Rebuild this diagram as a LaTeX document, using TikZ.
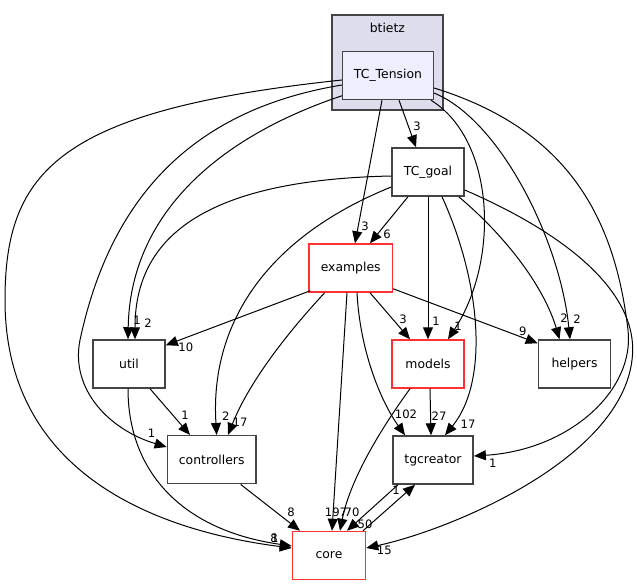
\documentclass[tikz,border=0pt]{standalone}
\usepackage{fontspec}
\setmainfont{DejaVu Sans}
\usepackage{tikz}
\usepackage{xcolor}
\usetikzlibrary{arrows.meta}
\definecolor{clusterfill}{HTML}{DDDDEE}
\definecolor{currentfill}{HTML}{EEEEFF}
\definecolor{boxline}{HTML}{444444}
\definecolor{boxred}{HTML}{FF3030}
\tikzstyle{cluster} = [rectangle,
                       minimum width=111pt,
                       minimum height=95pt,
                       draw=boxline,
                       line width=1.5pt,
                       fill=clusterfill]
\tikzstyle{dirnode} = [rectangle,
                       minimum width=72pt,
                       minimum height=48pt,
                       inner sep=2pt,
                       text centered,
                       draw=boxline,
                       line width=1.5pt,
                       fill=white,
                       font=\fontsize{12.4}{14}\selectfont]
\tikzstyle{reddir} = [dirnode,
                      draw=boxred]
\tikzstyle{currentdir} = [dirnode,
                          fill=currentfill]
\tikzstyle{lbl} = [inner sep=0pt,
                   font=\fontsize{11.6}{13}\selectfont]
\tikzstyle{arrow} = [line width=1pt,
                     ->,
                     >={Triangle[length=12pt,width=10pt]}]

\begin{document}
\begin{tikzpicture}[x=1pt, y=-1pt]
    \fill[white] (0,0) rectangle (637,585);
    \useasboundingbox (0,0) rectangle (637,585);

    \node (btietz)      [cluster]                           at (387.4,62.5) {};
    \node (btietzname)  [lbl, font=\fontsize{12.4}{14}\selectfont] at (387.4,28) {btietz};
    \node (tension)     [currentdir, minimum width=90.6pt]  at (388,75.5)   {TC\_Tension};
    \node (goal)        [dirnode]                           at (428,172)    {TC\_goal};
    \node (examples)    [reddir, minimum width=83.3pt]      at (350.7,268)  {examples};
    \node (util)        [dirnode]                           at (129,364)    {util};
    \node (models)      [reddir]                            at (428,364)    {models};
    \node (helpers)     [dirnode]                           at (574.5,364)  {helpers};
    \node (controllers) [dirnode, minimum width=88.7pt]     at (211.7,459.7) {controllers};
    \node (tgcreator)   [dirnode, minimum width=80.3pt]     at (433,460)    {tgcreator};
    \node (core)        [reddir, minimum width=73pt]        at (329,555.5)  {core};

    % TC_Tension
    \draw [arrow] ([xshift=11pt]tension.south) -- node[lbl, at end, xshift=1pt, yshift=21pt] {3} ([xshift=-12pt]goal.north);
    \draw [arrow] ([xshift=-6pt]tension.south) -- node[lbl, at end, xshift=10pt, yshift=17pt] {3} ([xshift=4.3pt]examples.north);
    \draw [arrow] ([xshift=-3pt]tension.south east) .. controls (495,140) and (500,260) .. node[lbl, at end, xshift=10pt, yshift=13pt] {1} ([xshift=20pt]models.north);
    \draw [arrow] ([yshift=-17.5pt]tension.east) .. controls (500,120) and (560,240) .. node[lbl, at end, xshift=7pt, yshift=20pt] {2} ([xshift=-4.5pt]helpers.north);
    \draw [arrow] ([yshift=-12.5pt]tension.east) .. controls (570,130) and (615,220) .. (628,330) .. controls (635,390) and (570,450) .. node[lbl, at end, xshift=19pt, yshift=-7pt] {1} ([yshift=4pt]tgcreator.east);
    \draw [arrow] ([yshift=4.5pt]tension.south west) .. controls (210,140) and (130,220) .. node[lbl, at end, xshift=9pt, yshift=19pt] {1} ([xshift=-1pt]util.north);
    \draw [arrow] ([yshift=-9.5pt]tension.west) .. controls (190,110) and (110,200) .. (80,340) .. controls (70,390) and (110,430) .. node[lbl, at end, xshift=-15pt, yshift=14pt] {1} ([yshift=12.7pt]controllers.west);
    \draw [arrow] ([yshift=-4.5pt]tension.west) .. controls (60,110) and (5,170) .. (5,300) .. controls (5,470) and (150,530) .. node[lbl, at end, xshift=-17pt, yshift=10pt] {1} ([yshift=7.5pt]core.west);

    % TC_goal
    \draw [arrow] ([xshift=-20pt]goal.south) -- node[lbl, at end, xshift=17pt, yshift=9pt] {6} ([xshift=19.3pt]examples.north);
    \draw [arrow] (goal.south) -- node[lbl, at end, xshift=8pt, yshift=18pt] {1} (models.north);
    \draw [arrow] ([xshift=14pt]goal.south) .. controls (480,280) and (490,380) .. node[lbl, at end, xshift=23pt, yshift=11pt] {17} ([xshift=12pt]tgcreator.north);
    \draw [arrow] ([xshift=-6pt]goal.south east) .. controls (510,240) and (545,290) .. node[lbl, at end, xshift=4.5pt, yshift=21pt] {2} ([xshift=-15pt]helpers.north);
    \draw [arrow] ([yshift=-18pt]goal.east) .. controls (580,240) and (640,300) .. (632,360) .. controls (620,460) and (450,530) .. node[lbl, at end, xshift=18pt, yshift=-2pt] {15} ([yshift=7.5pt]core.east);
    \draw [arrow] ([yshift=-4pt]goal.west) .. controls (200,180) and (135,240) .. node[lbl, at end, xshift=13pt, yshift=16pt] {2} ([xshift=6pt]util.north);
    \draw [arrow] ([yshift=-15pt]goal.west) .. controls (260,240) and (210,330) .. node[lbl, at end, xshift=9pt, yshift=19pt] {2} ([xshift=5pt]controllers.north);

    % examples
    \draw [arrow] ([xshift=2pt, yshift=2pt]examples.south west) -- node[lbl, at end, xshift=20pt, yshift=-2pt] {10} ([yshift=-6pt]util.north east);
    \draw [arrow] ([xshift=-26pt]examples.south) .. controls (290,330) and (250,380) .. node[lbl, at end, xshift=12pt, yshift=13pt] {17} ([xshift=16.3pt]controllers.north);
    \draw [arrow] ([xshift=19.3pt]examples.south) -- node[lbl, at end, xshift=-7pt, yshift=20pt] {3} ([xshift=-18pt]models.north);
    \draw [arrow] ([yshift=4pt]examples.south east) -- node[lbl, at end, xshift=-15pt, yshift=12pt] {9} ([yshift=-4pt]helpers.north west);
    \draw [arrow] ([xshift=6.3pt]examples.south) .. controls (360,350) and (380,400) .. node[lbl, at end, xshift=1pt, yshift=21pt] {102} ([xshift=-28pt]tgcreator.north);
    \draw [arrow] ([xshift=-3.7pt]examples.south) -- node[lbl, at end, xshift=4pt, yshift=18pt] {197} ([xshift=3pt]core.north);

    % models
    \draw [arrow] ([xshift=-18pt]models.south) .. controls (380,430) and (350,480) .. node[lbl, at end, xshift=12pt, yshift=18pt] {70} ([xshift=11pt]core.north);
    \draw [arrow] ([xshift=2pt]models.south) -- node[lbl, at end, xshift=8pt, yshift=19pt] {27} ([xshift=-2pt]tgcreator.north);

    % util, controllers
    \draw [arrow] ([xshift=21pt]util.south) -- node[lbl, at end, xshift=-5pt, yshift=20pt] {1} ([xshift=-21.7pt]controllers.north);
    \draw [arrow] ([xshift=-1pt]util.south) .. controls (128,470) and (180,530) .. node[lbl, at end, xshift=-17.7pt, yshift=8pt] {8} ([yshift=9.5pt]core.west);
    \draw [arrow] ([xshift=29pt]controllers.south) -- node[lbl, at end, xshift=-9pt, yshift=18pt] {8} ([xshift=-29pt]core.north);

    % tgcreator, core
    \draw [arrow] ([xshift=-35pt]tgcreator.south) -- node[lbl, at end, xshift=18pt, yshift=6pt] {50} ([xshift=18pt]core.north);
    \draw [arrow] ([xshift=34pt]core.north) -- node[lbl, at end, xshift=-19pt, yshift=-6pt] {1} ([xshift=-18pt]tgcreator.south);

  \end{tikzpicture}
\end{document}
